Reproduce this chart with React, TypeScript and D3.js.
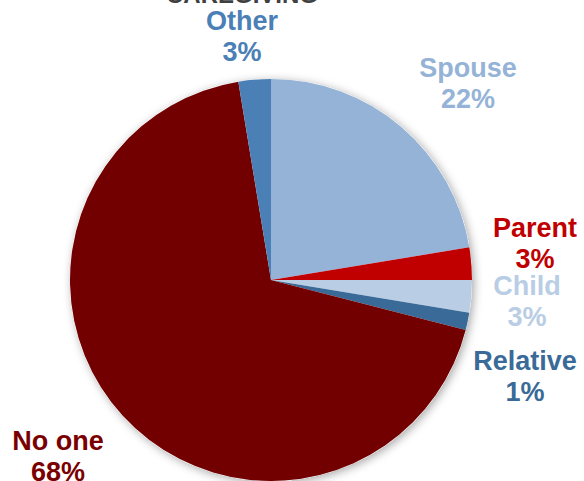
import React from "react";
import * as d3 from "d3";

const categories = ["Spouse", "Parent", "Child", "Relative", "No one", "Other"];
const values = [22.4, 2.6, 2.6, 1.4, 68.4, 2.6];
const percentLabels = ["22%", "3%", "3%", "1%", "68%", "3%"];
const colors = ["#95B3D7", "#C00000", "#B9CDE5", "#3A6A98", "#730000", "#4A80B6"];
const labelColors = ["#95B3D7", "#C00000", "#B9CDE5", "#3A6A98", "#7A0000", "#4A80B6"];
const labelPos: [number, number][] = [
  [468, 77],
  [535, 237],
  [527, 295],
  [525, 370],
  [58, 450],
  [242, 30],
];

const W = 584;
const H = 481;
const cx = 271;
const cy = 280;
const R = 201;

export default function App() {
  const pie = d3
    .pie<number>()
    .sort(null)
    .value((d) => d)
    .startAngle(0)
    .endAngle(2 * Math.PI);
  const arcs = pie(values);
  const arc = d3.arc<d3.PieArcDatum<number>>().innerRadius(0).outerRadius(R);
  const font = "'Liberation Sans', Arial, sans-serif";

  return (
    <svg
      width={W}
      height={H}
      style={{ position: "absolute", left: 0, top: 0, background: "#fff" }}
    >
      <defs>
        <filter id="shadow" x="-20%" y="-20%" width="140%" height="140%">
          <feDropShadow dx="2" dy="2" stdDeviation="5" floodColor="#000" floodOpacity="0.35" />
        </filter>
      </defs>
      <text
        x={242}
        y={3}
        textAnchor="middle"
        fontFamily={font}
        fontWeight="bold"
        fontSize={24}
        fill="#404040"
      >
        CAREGIVING
      </text>
      <g transform={`translate(${cx},${cy})`}>
        <circle r={R} fill="#fff" filter="url(#shadow)" />
        {arcs.map((a, i) => (
          <path key={categories[i]} d={arc(a) || ""} fill={colors[i]} />
        ))}
      </g>
      {categories.map((c, i) => (
        <text
          key={c}
          x={labelPos[i][0]}
          y={labelPos[i][1]}
          textAnchor="middle"
          fontFamily={font}
          fontWeight="bold"
          fontSize={27}
          fill={labelColors[i]}
        >
          <tspan x={labelPos[i][0]} dy={0}>
            {c}
          </tspan>
          <tspan x={labelPos[i][0]} dy={31}>
            {percentLabels[i]}
          </tspan>
        </text>
      ))}
    </svg>
  );
}
